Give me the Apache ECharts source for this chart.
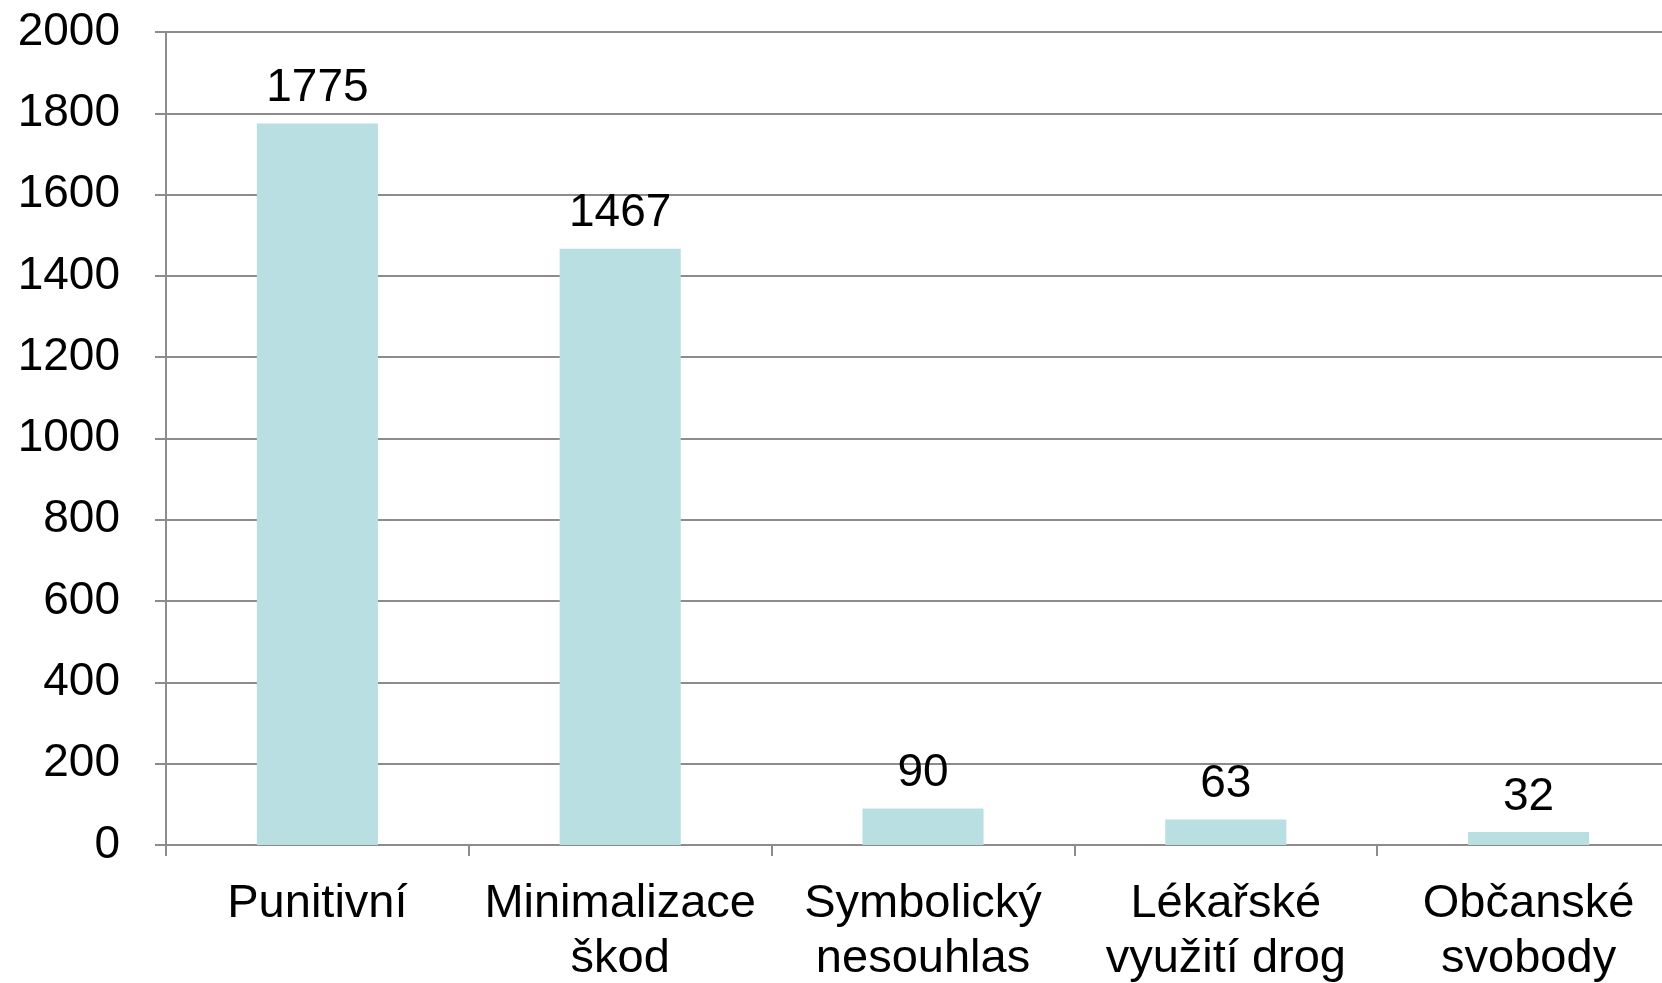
<!DOCTYPE html>
<html>
<head>
<meta charset="utf-8">
<script src="https://cdn.jsdelivr.net/npm/echarts@6/dist/echarts.min.js"></script>
<style>
  html, body { margin: 0; padding: 0; background: #fff; }
  #chart { width: 1662px; height: 983px; }
</style>
</head>
<body>
<div id="chart"></div>
<script>
// categories and values
const categories = ['Punitivní', 'Minimalizace\nškod', 'Symbolický\nnesouhlas', 'Lékařské\nvyužití drog', 'Občanské\nsvobody'];
const counts = [1775, 1467, 90, 63, 32];

const chart = echarts.init(document.getElementById('chart'));
const font = 'Liberation Sans, Arial, sans-serif';

chart.setOption({
  animation: false,
  grid: { left: 166, top: 32, width: 1514, height: 813, outerBoundsMode: 'none' },
  xAxis: {
    type: 'category',
    data: categories,
    axisLine: { lineStyle: { color: '#8c8c8c', width: 2 } },
    axisTick: { show: true, length: 11, lineStyle: { color: '#8c8c8c', width: 2 } },
    axisLabel: { color: '#000', fontFamily: font, fontSize: 47, lineHeight: 55, margin: 32, interval: 0 },
  },
  yAxis: {
    type: 'value',
    min: 0,
    max: 2000,
    interval: 200,
    axisLine: { show: true, lineStyle: { color: '#8c8c8c', width: 2 } },
    axisTick: { show: true, length: 11, lineStyle: { color: '#8c8c8c', width: 2 } },
    splitLine: { lineStyle: { color: '#8c8c8c', width: 2 } },
    axisLabel: { color: '#000', fontFamily: font, fontSize: 46, margin: 46, formatter: v => String(v) },
  },
  series: [
    {
      type: 'bar',
      data: counts,
      barWidth: '40%',
      itemStyle: { color: '#b9dfe2' },
      label: {
        show: true,
        position: 'top',
        distance: 12,
        color: '#000',
        fontFamily: font,
        fontSize: 46,
      },
    },
  ],
});
</script>
</body>
</html>
